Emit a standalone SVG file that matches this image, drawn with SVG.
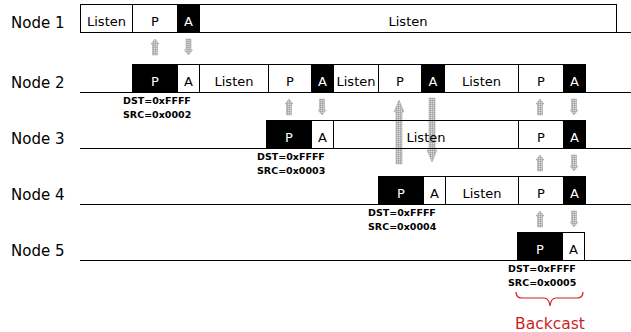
<svg xmlns="http://www.w3.org/2000/svg" xmlns:xlink="http://www.w3.org/1999/xlink" width="631" height="332" viewBox="0 0 631 332">
<style>
.c{fill:none;stroke:#000;stroke-width:1}
.b{fill:#000;stroke:#000;stroke-width:1}
.base{stroke:#000;stroke-width:1.2}
text{font-family:"DejaVu Sans","Liberation Sans",sans-serif}
.lbl{font-size:15px;fill:#000}
.t{font-size:13px;fill:#000;text-anchor:middle}
.tw{font-size:13px;fill:#fff;text-anchor:middle}
.ad{font-size:9.5px;font-weight:bold;fill:#000}
.arr{fill:url(#hatch);stroke:#a8a8a8;stroke-width:0.6}
.red{fill:#cc1f1f;font-size:15.5px;text-anchor:middle}
</style>
<defs>
<pattern id="hatch" width="2" height="2" patternUnits="userSpaceOnUse">
<rect width="2" height="2" fill="#dcdcdc"/>
<path d="M0,0.5H2M0.5,0V2" stroke="#9c9c9c" stroke-width="0.6"/>
</pattern>
<path id="au" class="arr" d="M0,0 L4,5 L2.5,5 L2.5,16 L-2.5,16 L-2.5,5 L-4,5 Z"/>
<path id="adn" class="arr" d="M0,16 L4,11 L2.5,11 L2.5,0 L-2.5,0 L-2.5,11 L-4,11 Z"/>
</defs>
<rect width="631" height="332" fill="#fff"/>

<g id="connectors">
<use xlink:href="#au" x="155" y="39"/>
<use xlink:href="#adn" x="188.5" y="39"/>
<use xlink:href="#au" x="289" y="99"/>
<use xlink:href="#adn" x="322" y="99"/>
<use xlink:href="#au" x="540" y="99"/>
<use xlink:href="#adn" x="574" y="99"/>
<use xlink:href="#au" x="540" y="155"/>
<use xlink:href="#adn" x="574" y="155"/>
<use xlink:href="#au" x="540" y="211"/>
<use xlink:href="#adn" x="574" y="211"/>
<path class="arr" d="M399,100 L404,112 L402,112 L402,164 L396,164 L396,112 L394,112 Z"/>
<path class="arr" d="M432,162 L437,150 L435,150 L435,98 L429,98 L429,150 L427,150 Z"/>
</g>

<g id="node1">
<text class="lbl" x="11" y="27.5">Node 1</text>
<line class="base" x1="80" y1="32.5" x2="631" y2="32.5"/>
<rect class="c" x="80.5" y="4.5" width="52" height="28"/>
<rect class="c" x="132.5" y="4.5" width="45" height="28"/>
<rect class="b" x="177.5" y="4.5" width="22" height="28"/>
<rect class="c" x="199.5" y="4.5" width="417" height="28"/>
<text class="t" x="106.5" y="25.5">Listen</text>
<text class="t" x="155" y="25.5">P</text>
<text class="tw" x="188.5" y="25.5">A</text>
<text class="t" x="408" y="25.5">Listen</text>
</g>

<g id="node2">
<text class="lbl" x="11" y="87.5">Node 2</text>
<line class="base" x1="80" y1="92.5" x2="631" y2="92.5"/>
<rect class="b" x="132.5" y="64.5" width="45" height="28"/>
<rect class="c" x="177.5" y="64.5" width="22" height="28"/>
<rect class="c" x="199.5" y="64.5" width="69" height="28"/>
<rect class="c" x="268.5" y="64.5" width="43" height="28"/>
<rect class="b" x="311.5" y="64.5" width="22" height="28"/>
<rect class="c" x="333.5" y="64.5" width="45" height="28"/>
<rect class="c" x="378.5" y="64.5" width="43" height="28"/>
<rect class="b" x="421.5" y="64.5" width="23" height="28"/>
<rect class="c" x="444.5" y="64.5" width="74" height="28"/>
<rect class="c" x="518.5" y="64.5" width="45" height="28"/>
<rect class="b" x="563.5" y="64.5" width="22" height="28"/>
<text class="tw" x="155" y="85.5">P</text>
<text class="t" x="188.5" y="85.5">A</text>
<text class="t" x="234" y="85.5">Listen</text>
<text class="t" x="290" y="85.5">P</text>
<text class="tw" x="322.5" y="85.5">A</text>
<text class="t" x="356" y="85.5">Listen</text>
<text class="t" x="400" y="85.5">P</text>
<text class="tw" x="433" y="85.5">A</text>
<text class="t" x="481.5" y="85.5">Listen</text>
<text class="t" x="541" y="85.5">P</text>
<text class="tw" x="574.5" y="85.5">A</text>
<text class="ad" x="123" y="104">DST=0xFFFF</text>
<text class="ad" x="123" y="117.5">SRC=0x0002</text>
</g>

<g id="node3">
<text class="lbl" x="11" y="143.5">Node 3</text>
<line class="base" x1="80" y1="148.5" x2="631" y2="148.5"/>
<rect class="b" x="266.5" y="120.5" width="45" height="28"/>
<rect class="c" x="311.5" y="120.5" width="22" height="28"/>
<rect class="c" x="333.5" y="120.5" width="185" height="28"/>
<rect class="c" x="518.5" y="120.5" width="45" height="28"/>
<rect class="b" x="563.5" y="120.5" width="22" height="28"/>
<text class="tw" x="289" y="141.5">P</text>
<text class="t" x="322.5" y="141.5">A</text>
<text class="t" x="426" y="141.5">Listen</text>
<text class="t" x="541" y="141.5">P</text>
<text class="tw" x="574.5" y="141.5">A</text>
<text class="ad" x="257" y="160">DST=0xFFFF</text>
<text class="ad" x="257" y="173.5">SRC=0x0003</text>
</g>

<g id="node4">
<text class="lbl" x="11" y="199.5">Node 4</text>
<line class="base" x1="80" y1="204.5" x2="631" y2="204.5"/>
<rect class="b" x="378.5" y="176.5" width="45" height="28"/>
<rect class="c" x="423.5" y="176.5" width="22" height="28"/>
<rect class="c" x="445.5" y="176.5" width="73" height="28"/>
<rect class="c" x="518.5" y="176.5" width="45" height="28"/>
<rect class="b" x="563.5" y="176.5" width="22" height="28"/>
<text class="tw" x="401" y="197.5">P</text>
<text class="t" x="434.5" y="197.5">A</text>
<text class="t" x="482" y="197.5">Listen</text>
<text class="t" x="541" y="197.5">P</text>
<text class="tw" x="574.5" y="197.5">A</text>
<text class="ad" x="368" y="216">DST=0xFFFF</text>
<text class="ad" x="368" y="229.5">SRC=0x0004</text>
</g>

<g id="node5">
<text class="lbl" x="11" y="255.5">Node 5</text>
<line class="base" x1="80" y1="260.5" x2="631" y2="260.5"/>
<rect class="b" x="517.5" y="232.5" width="45" height="28"/>
<rect class="c" x="562.5" y="232.5" width="22" height="28"/>
<text class="tw" x="540" y="253.5">P</text>
<text class="t" x="573.5" y="253.5">A</text>
<text class="ad" x="508" y="272">DST=0xFFFF</text>
<text class="ad" x="508" y="285.5">SRC=0x0005</text>
</g>

<g id="backcast">
<path d="M516,292 Q516,298 522,298 L544,298 Q549,298 550,306 Q551,298 556,298 L577,298 Q583,298 583,292" fill="none" stroke="#cc1f1f" stroke-width="1.2"/>
<text class="red" x="550" y="328.5">Backcast</text>
</g>
</svg>
